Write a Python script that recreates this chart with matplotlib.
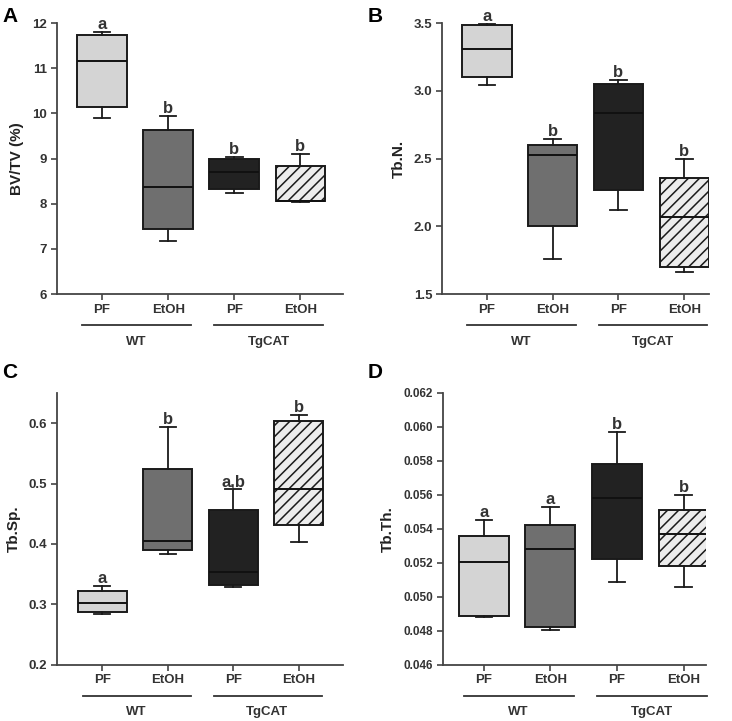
import numpy as np
import matplotlib.pyplot as plt
import matplotlib.transforms as mtransforms

plt.rcParams['font.family'] = ['Liberation Sans', 'DejaVu Sans']
plt.rcParams['hatch.linewidth'] = 1.1
plt.rcParams['hatch.color'] = '#333333'

groups = ['PF', 'EtOH', 'PF', 'EtOH']
strains = ['WT', 'TgCAT']

# box stats: whisker low, Q1, median, Q3, whisker high
bvtv_lo = [9.89, 7.18, 8.24, 8.04]
bvtv_q1 = [10.14, 7.45, 8.32, 8.06]
bvtv_med = [11.15, 8.37, 8.71, 8.06]
bvtv_q3 = [11.74, 9.63, 9.00, 8.84]
bvtv_hi = [11.80, 9.94, 9.04, 9.10]
bvtv_sig = ['a', 'b', 'b', 'b']

tbn_lo = [3.04, 1.756, 2.124, 1.665]
tbn_q1 = [3.104, 2.004, 2.267, 1.70]
tbn_med = [3.31, 2.53, 2.837, 2.07]
tbn_q3 = [3.483, 2.598, 3.053, 2.36]
tbn_hi = [3.49, 2.647, 3.082, 2.50]
tbn_sig = ['a', 'b', 'b', 'b']

tbsp_lo = [0.284, 0.384, 0.328, 0.403]
tbsp_q1 = [0.288, 0.390, 0.332, 0.432]
tbsp_med = [0.302, 0.4055, 0.353, 0.491]
tbsp_q3 = [0.322, 0.524, 0.456, 0.604]
tbsp_hi = [0.330, 0.593, 0.4905, 0.614]
tbsp_sig = ['a', 'b', 'a,b', 'b']

tbth_lo = [0.0488, 0.04802, 0.0509, 0.0506]
tbth_q1 = [0.04886, 0.04824, 0.0522, 0.0518]
tbth_med = [0.05206, 0.0528, 0.0558, 0.0537]
tbth_q3 = [0.0536, 0.0542, 0.0578, 0.0551]
tbth_hi = [0.0545, 0.0553, 0.0597, 0.0560]
tbth_sig = ['a', 'a', 'b', 'b']

fills = ['#d4d4d4', '#6f6f6f', '#222222', '#ececec']
hatches = [None, None, None, '///']


def draw_panel(rect, letter, letter_xy, ylabel, lo, q1, med, q3, hi, sig,
               ylim, yticks, ticklabels, xlim, tsize=9.5):
    ax = fig.add_axes(rect)
    stats = []
    for i in range(4):
        stats.append(dict(whislo=lo[i], q1=q1[i], med=med[i], q3=q3[i], whishi=hi[i], fliers=[]))
    pos = [1, 2, 3, 4]
    bp = ax.bxp(stats, positions=pos, widths=0.75, capwidths=0.25, patch_artist=True,
                showfliers=False,
                boxprops=dict(edgecolor='#1a1a1a', linewidth=1.4),
                medianprops=dict(color='#111111', linewidth=1.4),
                whiskerprops=dict(color='#1a1a1a', linewidth=1.3),
                capprops=dict(color='#1a1a1a', linewidth=1.3))
    for patch, c, h in zip(bp['boxes'], fills, hatches):
        patch.set_facecolor(c)
        if h:
            patch.set_hatch(h)

    for i in range(4):
        ax.annotate(sig[i], (pos[i], hi[i]), xytext=(0, 0), textcoords='offset points',
                    ha='center', va='bottom', fontsize=12, fontweight='bold', color='#333333')

    ax.set_xlim(*xlim)
    ax.set_ylim(*ylim)
    ax.set_yticks(yticks)
    ax.set_yticklabels(ticklabels)
    ax.set_xticks(pos)
    ax.set_xticklabels(groups)
    for s in ['top', 'right']:
        ax.spines[s].set_visible(False)
    for s in ['left', 'bottom']:
        ax.spines[s].set_color('#444444')
        ax.spines[s].set_linewidth(1.3)
    ax.tick_params(direction='out', length=4, width=1.2, color='#444444',
                   labelcolor='#333333', pad=3)
    ax.tick_params(axis='y', labelsize=tsize)
    ax.tick_params(axis='x', labelsize=9.5)
    for t in ax.get_xticklabels() + ax.get_yticklabels():
        t.set_fontweight('bold')
    ax.set_ylabel(ylabel, fontsize=11, fontweight='bold', color='#222222', labelpad=6)

    trans = mtransforms.blended_transform_factory(ax.transData, ax.transAxes)
    for k, name in enumerate(strains):
        x0 = 0.7 + 2 * k
        ax.plot([x0, x0 + 1.65], [-0.115, -0.115], transform=trans, color='#333333',
                linewidth=1.3, clip_on=False)
        ax.text(x0 + 0.82, -0.175, name, transform=trans, ha='center', va='center',
                fontsize=9.5, fontweight='bold', color='#333333')

    fig.text(letter_xy[0], letter_xy[1], letter, fontsize=15,
             fontweight='bold', ha='left', va='center')
    return ax


fig = plt.figure(figsize=(7.32, 7.21), dpi=100)

draw_panel([0.078, 0.592, 0.391, 0.376], 'A', (0.003, 0.977), 'BV/TV (%)',
           bvtv_lo, bvtv_q1, bvtv_med, bvtv_q3, bvtv_hi, bvtv_sig,
           (6, 12), [6, 7, 8, 9, 10, 11, 12], ['6', '7', '8', '9', '10', '11', '12'], (0.32, 4.65))

draw_panel([0.604, 0.592, 0.365, 0.376], 'B', (0.502, 0.977), 'Tb.N.',
           tbn_lo, tbn_q1, tbn_med, tbn_q3, tbn_hi, tbn_sig,
           (1.5, 3.5), [1.5, 2.0, 2.5, 3.0, 3.5], ['1.5', '2.0', '2.5', '3.0', '3.5'], (0.32, 4.38))

draw_panel([0.078, 0.078, 0.391, 0.377], 'C', (0.003, 0.484), 'Tb.Sp.',
           tbsp_lo, tbsp_q1, tbsp_med, tbsp_q3, tbsp_hi, tbsp_sig,
           (0.2, 0.65), [0.2, 0.3, 0.4, 0.5, 0.6], ['0.2', '0.3', '0.4', '0.5', '0.6'], (0.31, 4.68))

draw_panel([0.605, 0.078, 0.359, 0.377], 'D', (0.502, 0.484), 'Tb.Th.',
           tbth_lo, tbth_q1, tbth_med, tbth_q3, tbth_hi, tbth_sig,
           (0.046, 0.062), np.arange(0.046, 0.0621, 0.002),
           ['0.046', '0.048', '0.050', '0.052', '0.054', '0.056', '0.058', '0.060', '0.062'],
           (0.385, 4.33), tsize=8.5)

fig.savefig('out.png', dpi=100)
